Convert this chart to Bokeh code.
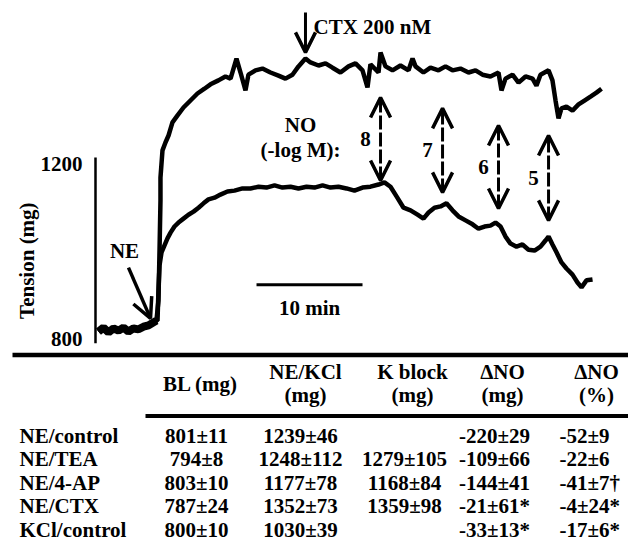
import math
from bokeh.plotting import figure
from bokeh.models import Range1d, Arrow, OpenHead, ColumnDataSource
from bokeh.embed import file_html
from bokeh.resources import INLINE
from bokeh.core.properties import value

FONT = "Liberation Serif"
FS = "21px"

# ---------------- data: tension traces (time in min, tension in mg) ----------------
base_t = [0.28, 0.75, 1.23, 1.70, 2.17, 2.64, 3.11, 3.58, 4.06, 4.53, 5.00, 5.47, 5.75]
base_mg = [816, 825, 814, 823, 818, 825, 816, 823, 821, 827, 830, 837, 841]

ctx_t = [5.94, 6.04, 6.13, 6.13, 6.32, 6.60, 6.89, 7.26, 7.74, 8.30, 8.96, 9.62, 10.28, 10.85,
         11.60, 12.26, 12.74, 13.30, 13.68, 14.15, 14.43, 15.09, 15.75, 16.51, 17.26, 17.92, 18.58,
         19.15, 19.81, 20.28, 21.04, 21.70, 22.36, 23.11, 23.87, 24.53, 25.19, 25.66, 25.94, 26.70,
         26.89, 27.36, 28.02, 28.77, 29.53, 29.91, 30.19, 30.94, 31.60, 32.36, 33.02, 33.68, 34.43,
         35.19, 35.85, 36.51, 37.26, 38.02, 38.30, 38.68, 39.34, 39.91, 40.57, 41.23, 41.60, 41.98,
         42.74, 43.11, 43.40, 43.68, 43.96, 44.43, 45.00, 45.57, 46.13, 46.70, 47.26, 47.74]
ctx_mg = [887, 1001, 1115, 1168, 1230, 1248, 1264, 1294, 1310, 1328, 1344, 1360, 1371, 1381,
          1390, 1399, 1394, 1440, 1408, 1367, 1403, 1413, 1417, 1408, 1401, 1394, 1403,
          1422, 1440, 1431, 1424, 1429, 1419, 1408, 1422, 1429, 1413, 1374, 1427, 1408,
          1454, 1422, 1413, 1424, 1413, 1440, 1422, 1408, 1419, 1413, 1422, 1413, 1417,
          1408, 1413, 1403, 1399, 1408, 1367, 1394, 1403, 1385, 1399, 1394, 1378, 1403,
          1413, 1390, 1344, 1303, 1326, 1330, 1321, 1335, 1344, 1353, 1362, 1371]

no_t = [5.85, 5.94, 6.04, 6.23, 6.51, 6.79, 7.08, 7.45, 7.83, 8.30, 8.77, 9.25, 9.72, 10.19,
        10.66, 11.23, 11.79, 12.45, 13.11, 13.87, 14.62, 15.38, 16.13, 16.89, 17.64, 18.40,
        19.15, 19.91, 20.66, 21.42, 22.17, 22.92, 23.68, 24.43, 25.19, 25.94, 26.70, 27.26,
        27.83, 28.40, 29.06, 29.72, 30.38, 30.94, 31.42, 31.98, 32.55, 33.11, 33.68, 34.25,
        34.91, 35.57, 36.13, 36.70, 37.26, 37.74, 38.21, 38.68, 39.15, 39.72, 40.28, 40.85,
        41.42, 41.98, 42.45, 42.74, 43.11, 43.49, 43.96, 44.43, 45.00, 45.47, 45.85, 46.32, 46.89]
no_mg = [841, 910, 967, 997, 1013, 1029, 1042, 1056, 1065, 1074, 1083, 1090, 1099, 1109,
         1118, 1122, 1129, 1136, 1138, 1143, 1143, 1147, 1145, 1150, 1145, 1147,
         1143, 1147, 1145, 1150, 1145, 1147, 1143, 1138, 1145, 1147, 1152, 1157,
         1147, 1125, 1099, 1093, 1083, 1074, 1088, 1099, 1102, 1109, 1093, 1079,
         1070, 1061, 1051, 1056, 1058, 1065, 1056, 1033, 1017, 1010, 1015, 1003,
         1001, 1010, 1024, 1033, 1015, 997, 974, 960, 946, 928, 917, 933, 935]

y_ticks = [800, 1200]
y_tick_labels = ["800", "1200"]
y_axis_bounds = [789, 1214]

# NO doses (-log M) and their double arrows
no_dose_labels = ["8", "7", "6", "5"]
no_dose_t = [26.89, 32.74, 38.02, 42.74]
arrow_top = [1351, 1326, 1287, 1264]
arrow_bottom = [1161, 1134, 1097, 1070]

ctx_t_add = 19.81
ne_t_add = 5.19
scale_bar_start = 15.19
scale_bar_min = 10

# ---------------- data: table ----------------
row_labels = ["NE/control", "NE/TEA", "NE/4-AP", "NE/CTX", "KCl/control"]
col_bl = ["801±11", "794±8", "803±10", "787±24", "800±10"]
col_nekcl = ["1239±46", "1248±112", "1177±78", "1352±73", "1030±39"]
col_kblock = ["", "1279±105", "1168±84", "1359±98", ""]
col_dno_mg = ["-220±29", "-109±66", "-144±41", "-21±61*", "-33±13*"]
col_dno_pct = ["-52±9", "-22±6", "-41±7†", "-4±24*", "-17±6*"]
head_line1 = ["NE/KCl", "K block", "ΔNO", "ΔNO"]
head_line2 = ["(mg)", "(mg)", "(mg)", "(%)"]

# ---------------- figure ----------------
W, H = 628, 559
p = figure(width=W, height=H, x_range=Range1d(-8.962, 50.283), y_range=Range1d(294.9, 1572.6),
           x_axis_type=None, y_axis_type=None, toolbar_location=None, output_backend="svg",
           min_border_left=0, min_border_right=0, min_border_top=0, min_border_bottom=0)
p.outline_line_color = None
p.background_fill_color = "white"
p.border_fill_color = "white"
# table layer in page-pixel coordinates
p.extra_x_ranges = {"tab": Range1d(0, W)}
p.extra_y_ranges = {"tab": Range1d(H, 0)}

lab = dict(text_font=value(FONT), text_font_size=FS, text_font_style="bold",
           text_color="black", text_baseline="middle")

# y axis (tension scale)
p.segment(x0=[0], y0=[y_axis_bounds[0]], x1=[0], y1=[y_axis_bounds[1]],
          line_color="black", line_width=2.5)
p.text(x=[0, 0], y=y_ticks, text=y_tick_labels, x_offset=-13, text_align="right", **lab)
p.text(x=[0], y=[978], text=["Tension (mg)"], x_offset=-68, angle=math.pi / 2,
       text_align="center", **lab)

# traces
top_t = base_t + ctx_t
top_mg = base_mg + ctx_mg
bot_t = base_t + no_t
bot_mg = base_mg + no_mg
p.line(base_t, base_mg, line_color="black", line_width=8)
p.line(top_t, top_mg, line_color="black", line_width=4.5)
p.line(bot_t, bot_mg, line_color="black", line_width=4.5)

# NO double arrows
arr_src = ColumnDataSource(dict(x=no_dose_t, y0=arrow_bottom, y1=arrow_top))
p.add_layout(Arrow(source=arr_src, x_start="x", y_start="y0", x_end="x", y_end="y1",
                   start=OpenHead(size=20, line_width=3.5, line_color="black"),
                   end=OpenHead(size=20, line_width=3.5, line_color="black"),
                   line_width=3, line_color="black", line_dash="14 3"))
mid = [(a + b) / 2 for a, b in zip(arrow_top, arrow_bottom)]
p.text(x=no_dose_t, y=mid, text=no_dose_labels, x_offset=-15, text_align="center", **lab)

# CTX arrow and label
p.add_layout(Arrow(x_start=ctx_t_add, y_start=1545, x_end=ctx_t_add, y_end=1454,
                   end=OpenHead(size=20, line_width=3.5, line_color="black"),
                   line_width=3, line_color="black"))
p.text(x=[ctx_t_add], y=[1513], text=["CTX 200 nM"], x_offset=8, text_align="left", **lab)

# NE arrow and label
p.add_layout(Arrow(x_start=3.11, y_start=962, x_end=ne_t_add, y_end=846,
                   end=OpenHead(size=20, line_width=3.5, line_color="black"),
                   line_width=3.5, line_color="black"))
p.text(x=[2.74], y=[1001], text=["NE"], text_align="center", **lab)

# NO label
p.text(x=[19.34, 19.34], y=[1287, 1230], text=["NO", "(-log M):"], text_align="center", **lab)

# scale bar
p.segment(x0=[scale_bar_start], y0=[923], x1=[scale_bar_start + scale_bar_min], y1=[923],
          line_color="black", line_width=3)
p.text(x=[scale_bar_start + scale_bar_min / 2], y=[869], text=[f"{scale_bar_min} min"],
       text_align="center", **lab)

# ---------------- table (page-pixel layer) ----------------
tab = dict(x_range_name="tab", y_range_name="tab")
p.segment(x0=[12], y0=[354.5], x1=[W], y1=[354.5], line_color="black", line_width=4.5, **tab)
p.segment(x0=[145], y0=[415.5], x1=[W], y1=[415.5], line_color="black", line_width=4, **tab)

row_y = [435, 458.5, 482, 505.5, 529]
p.text(x=[19] * 5, y=row_y, text=row_labels, text_align="left", **lab, **tab)
p.text(x=[196] * 5, y=row_y, text=col_bl, text_align="center", **lab, **tab)
p.text(x=[300] * 5, y=row_y, text=col_nekcl, text_align="center", **lab, **tab)
p.text(x=[404] * 5, y=row_y, text=col_kblock, text_align="center", **lab, **tab)
p.text(x=[494] * 5, y=row_y, text=col_dno_mg, text_align="center", **lab, **tab)
p.text(x=[559] * 5, y=row_y, text=col_dno_pct, text_align="left", **lab, **tab)

p.text(x=[200], y=[383], text=["BL (mg)"], text_align="center", **lab, **tab)
head_x = [305, 412, 502, 596]
p.text(x=head_x, y=[371] * 4, text=head_line1, text_align="center", **lab, **tab)
p.text(x=head_x, y=[394] * 4, text=head_line2, text_align="center", **lab, **tab)

open("out.html", "w").write(file_html(p, INLINE))
